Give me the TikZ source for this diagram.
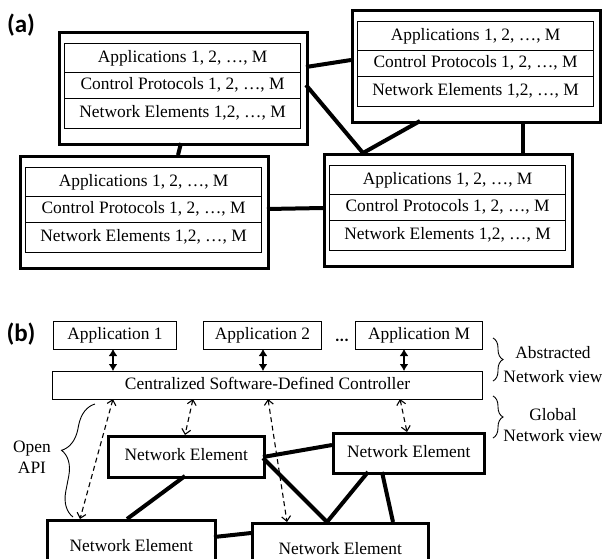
\documentclass[tikz,border=0pt]{standalone}
\usepackage{fontspec}
\setmainfont{Liberation Serif}
\newfontfamily\lblfont{Carlito}
\usetikzlibrary{calc,arrows.meta,decorations.pathreplacing}
\begin{document}
\begin{tikzpicture}[x=1pt,y=-1pt,
  txt/.style={font=\fontsize{17.4}{21}\selectfont},
  outerbox/.style={draw, line width=2.5pt, minimum width=248pt, minimum height=112pt, anchor=north west, inner sep=0pt},
  rowbox/.style={draw, line width=1.2pt, minimum width=236pt, anchor=north west, inner sep=0pt, txt, text height=12pt, text depth=4pt},
  conn/.style={line width=4pt},
  appbox/.style={draw, line width=1pt, minimum height=28pt, anchor=north west, inner sep=0pt, txt, text height=12pt, text depth=4pt},
  nebox/.style={draw, line width=2.5pt, anchor=north west, inner sep=0pt, txt, text height=12pt, text depth=4pt},
  solidarr/.style={line width=2pt, {Latex[length=7pt,width=9pt]}-{Latex[length=7pt,width=9pt]}},
  dasharr/.style={line width=1.1pt, dash pattern=on 5pt off 3.5pt, {Straight Barb[length=5pt,width=9pt]}-{Straight Barb[length=5pt,width=9pt]}},
  brc/.style={decorate, line width=0.9pt},
  lbl/.style={font=\lblfont\bfseries\fontsize{25}{28}\selectfont},
  side/.style={txt, align=center}
]
\useasboundingbox (0,0) rectangle (602,558);
\clip (0,0) rectangle (602,558);

% ---------- (a) ----------
\node[lbl] (la) at (21,25) {(a)};

\newcommand\mkstack[3]{%
  \node[outerbox] (#1) at (#2,#3) {};
  \node[rowbox, minimum height=29pt] (#1a) at ($(#1.north west)+(6,12)$) {Applications 1, 2, …, M};
  \node[rowbox, minimum height=26pt] (#1c) at ($(#1.north west)+(6,41)$) {Control Protocols 1, 2, …, M};
  \node[rowbox, minimum height=30pt] (#1n) at ($(#1.north west)+(6,67)$) {Network Elements 1,2, …, M};
}
\mkstack{A1}{58}{31}
\mkstack{A2}{351}{9}
\mkstack{A3}{19}{155}
\mkstack{A4}{323}{153}

\draw[conn] ($(A1.north west)+(248,36)$) -- ($(A2.north west)+(0,51)$);
\draw[conn] ($(A1.north west)+(248,54)$) -- ($(A4.north west)+(40,0)$);
\draw[conn] ($(A2.north west)+(69,112)$) -- ($(A4.north west)+(40,0)$);
\draw[conn] ($(A2.north west)+(172,112)$) -- ($(A4.north west)+(200,0)$);
\draw[conn] ($(A1.north west)+(123,112)$) -- ($(A3.north west)+(159,0)$);
\draw[conn] ($(A3.north west)+(248,54)$) -- ($(A4.north west)+(0,55)$);

% ---------- (b) ----------
\node[lbl] (lb) at (21,334) {(b)};

\node[appbox, minimum width=123pt] (P1) at (53,321) {Application 1};
\node[appbox, minimum width=118pt] (P2) at (203,321) {Application 2};
\node[font=\lblfont\bfseries\fontsize{17}{20}\selectfont] (dots) at (342,340) {...};
\node[appbox, minimum width=127pt] (PM) at (355,321) {Application M};
\node[appbox, minimum width=430pt] (C) at (52,371) {Centralized Software-Defined Controller};

\node[nebox, minimum width=156pt, minimum height=41pt] (N1) at (107,435) {Network Element};
\node[nebox, minimum width=151pt, minimum height=40pt] (N2) at (332,432) {Network Element};
\node[nebox, minimum width=168pt, minimum height=54pt] (N3) at (46,519) {Network Element};
\node[nebox, minimum width=176pt, minimum height=54pt] (N4) at (251,522) {Network Element};

% app <-> controller
\draw[solidarr] ($(P1.north west)+(60,28)$) -- ($(C.north west)+(61,0)$);
\draw[solidarr] ($(P2.north west)+(60,28)$) -- ($(C.north west)+(211,0)$);
\draw[solidarr] ($(PM.north west)+(49,28)$) -- ($(C.north west)+(352,0)$);

% controller <-> network elements
\draw[dasharr] ($(C.north west)+(61,28)$) -- ($(N3.north west)+(34,0)$);
\draw[dasharr] ($(C.north west)+(141,28)$) -- ($(N1.north west)+(78,0)$);
\draw[dasharr] ($(C.north west)+(216,28)$) -- ($(N4.north west)+(36,0)$);
\draw[dasharr] ($(C.north west)+(348,28)$) -- ($(N2.north west)+(75,0)$);

% network links
\draw[conn] ($(N1.north west)+(156,22)$) -- ($(N2.north west)+(0,13)$);
\draw[conn] ($(N1.north west)+(156,23)$) -- ($(N4.north west)+(76,0)$);
\draw[conn] ($(N2.north west)+(36,40)$) -- ($(N4.north west)+(76,0)$);
\draw[conn] ($(N2.north west)+(50,40)$) -- ($(N4.north west)+(142,0)$);
\draw[conn] ($(N1.north west)+(78,41)$) -- ($(N3.north west)+(81,0)$);
\draw[conn] ($(N3.north west)+(168,18)$) -- ($(N4.north west)+(0,11)$);

% braces and side labels
\coordinate (ob1) at (73,517);
\coordinate (ob2) at (95,404);
\draw[brc, decoration={brace, amplitude=24pt, aspect=0.55}] (ob1) -- (ob2);
\node[side] (oapi) at (32,457) {Open\\API};

\coordinate (ab1) at (493,338);
\coordinate (ab2) at (493,381);
\draw[brc, decoration={brace, amplitude=10pt}] (ab1) -- (ab2);
\node[side, font=\fontsize{17.4}{24}\selectfont] (abs) at (553,365) {Abstracted\\Network view};

\coordinate (gb1) at (493,396);
\coordinate (gb2) at (493,438);
\draw[brc, decoration={brace, amplitude=10pt}] (gb1) -- (gb2);
\node[side] (glob) at (553,425) {Global\\Network view};
\end{tikzpicture}
\end{document}
